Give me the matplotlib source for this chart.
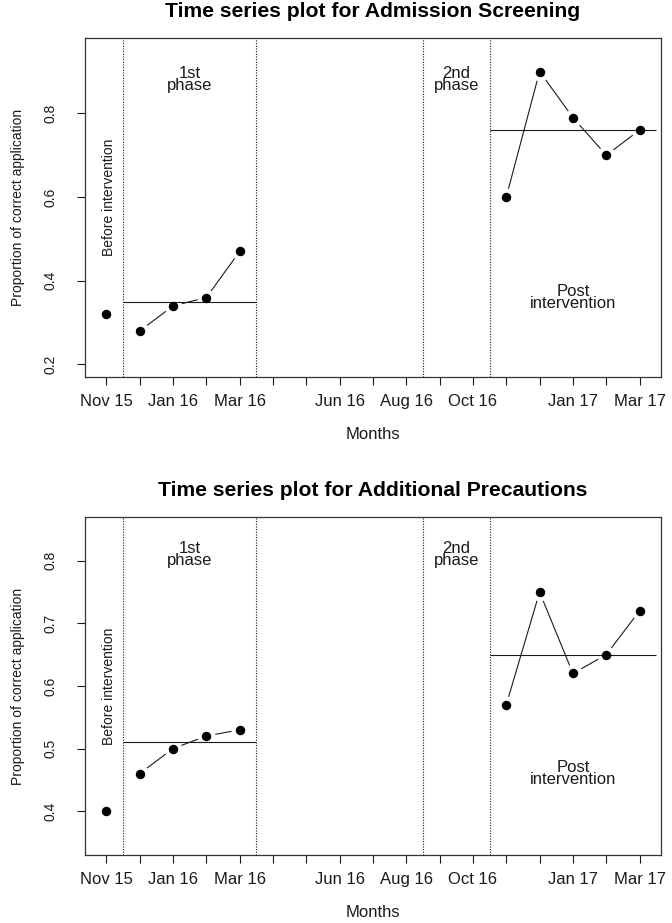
import numpy as np
import matplotlib
matplotlib.use('Agg')
import matplotlib.pyplot as plt

plt.rcParams['font.family'] = ['Liberation Sans', 'DejaVu Sans']

# month index 1..17 (Nov 15 .. Mar 17)
months = ['Nov 15', 'Dec 15', 'Jan 16', 'Feb 16', 'Mar 16', 'Apr 16', 'May 16', 'Jun 16',
          'Jul 16', 'Aug 16', 'Sep 16', 'Oct 16', 'Nov 16', 'Dec 16', 'Jan 17', 'Feb 17', 'Mar 17']
# labels R actually printed (others dropped for overlap)
shown = ['Nov 15', 'Jan 16', 'Mar 16', 'Jun 16', 'Aug 16', 'Oct 16', 'Jan 17', 'Mar 17']

nan = np.nan
admission = [0.32, 0.28, 0.34, 0.36, 0.47, nan, nan, nan, nan, nan, nan, nan,
             0.60, 0.90, 0.79, 0.70, 0.76]
additional = [0.40, 0.46, 0.50, 0.52, 0.53, nan, nan, nan, nan, nan, nan, nan,
              0.57, 0.75, 0.62, 0.65, 0.72]

phase_breaks = [1.5, 5.5, 10.5, 12.5]
phase1 = slice(1, 5)
post = slice(12, 17)

ink = '#1a1a1a'
fs = 12      # horizontal text (picture is a bit stretched sideways)
fsv = 10     # rotated text

fig = plt.figure(figsize=(6.72, 9.23), dpi=100)


def panel(rect, y, title, ylim, yticks, txt_y):
    ax = fig.add_axes(rect)
    x = np.arange(1, len(months) + 1)
    y = np.array(y, dtype=float)

    # type="b": lines with gaps round the points
    for sl in (phase1, post):
        ax.plot(x[sl], y[sl], color=ink, lw=0.8, zorder=2)
        ax.plot(x[sl], y[sl], 'o', ms=12, mfc='white', mec='white', zorder=3)
    ax.plot(x, y, 'o', ms=5.8, color='black', zorder=5)

    # medians of each phase
    for sl, (a, b) in ((phase1, (1.5, 5.5)), (post, (12.5, 17.5))):
        ax.hlines(np.nanmedian(y[sl]), a, b, color=ink, lw=0.8, zorder=4)

    for v in phase_breaks:
        ax.axvline(v, color=ink, lw=0.8, ls=(0, (1, 1.4)), zorder=4)

    ax.text(1.08, 0.6, 'Before intervention', rotation=90, ha='center', va='center',
            fontsize=fsv, color=ink)
    ax.text(3.5, txt_y[0], '1st\nphase', ha='center', va='center', fontsize=fs,
            color=ink, linespacing=0.75)
    ax.text(11.5, txt_y[0], '2nd\nphase', ha='center', va='center', fontsize=fs,
            color=ink, linespacing=0.75)
    ax.text(15, txt_y[1], 'Post\nintervention', ha='center', va='center', fontsize=fs,
            color=ink, linespacing=0.75)

    # R default 4% extension
    lo, hi = ylim
    ax.set_xlim(1 - 0.04 * 16, 17 + 0.04 * 16)
    ax.set_ylim(lo - 0.04 * (hi - lo), hi + 0.04 * (hi - lo))
    ax.set_xticks(x)
    ax.set_xticklabels([m if m in shown else '' for m in months])
    ax.set_yticks(yticks)
    ax.set_yticklabels(['%.1f' % t for t in yticks], rotation=90, va='center')
    ax.tick_params(axis='x', length=6, width=0.8, pad=6, labelsize=fs, colors=ink)
    ax.tick_params(axis='y', length=6, width=0.8, pad=14, labelsize=fsv, colors=ink)
    for s in ax.spines.values():
        s.set_linewidth(0.9)
        s.set_color('#333333')
    ax.set_xlabel('Months', fontsize=fs, color=ink, labelpad=13)
    ax.set_ylabel('Proportion of correct application', fontsize=fsv, color=ink, labelpad=13)
    ax.set_title(title, fontsize=15.2, fontweight='bold', color='black', pad=15)
    return ax


panel([0.1265, 0.5915, 0.857, 0.3673], admission,
      'Time series plot for Admission Screening', (0.2, 0.95), [0.2, 0.4, 0.6, 0.8], (0.88, 0.36))
panel([0.1265, 0.0737, 0.857, 0.3662], additional,
      'Time series plot for Additional Precautions', (0.35, 0.85),
      [0.4, 0.5, 0.6, 0.7, 0.8], (0.81, 0.46))

fig.savefig('out.png', dpi=100)
